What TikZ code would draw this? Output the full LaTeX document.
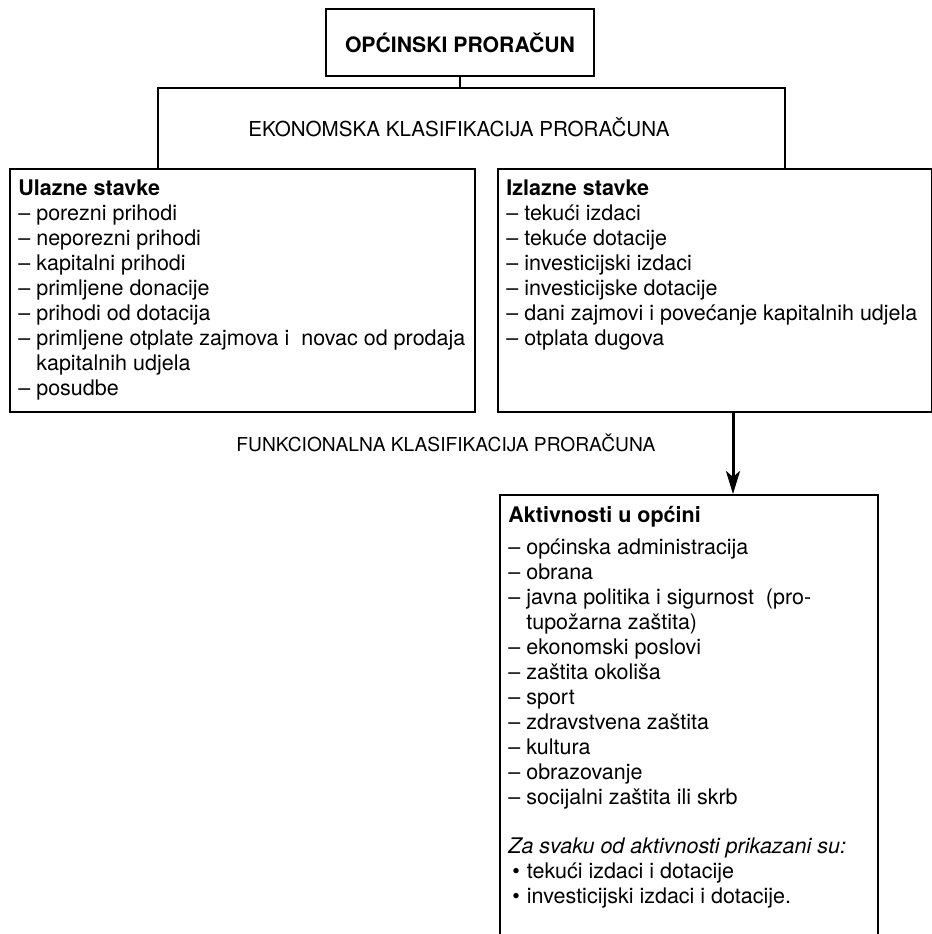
\documentclass[tikz,border=0pt]{standalone}
\usepackage{fontspec}
\setmainfont{TeX Gyre Heros}
\usetikzlibrary{arrows.meta}

\begin{document}
\begin{tikzpicture}[x=0.5pt, y=-0.5pt, font=\fontsize{10.75}{12.5}\selectfont]
        \tikzset{box/.style = {shape=rectangle, draw, line width=1pt, inner sep=0pt, anchor=north west},
                 txt/.style = {anchor=north west, align=left, inner xsep=4.5pt, inner ysep=5.8pt},
                 klas/.style = {font=\fontsize{10.3}{12}\selectfont},
                 link/.style = {line width=1pt}}
        \useasboundingbox (0,0) rectangle (932,934);
        \clip (0,0) rectangle (932,934);
        % boxes
        \node[box, minimum width=134pt, minimum height=33.5pt,
              font=\bfseries\fontsize{10.6}{12}\selectfont] (proracun) at (325,8) {OPĆINSKI PRORAČUN};
        \node[box, minimum width=232.5pt, minimum height=121.5pt] (ulaz) at (9,168) {};
        \node[box, minimum width=217pt, minimum height=121.5pt] (izlaz) at (497,168) {};
        \node[box, minimum width=189pt, minimum height=235pt] (aktiv) at (499,494) {};
        % texts
        \node[txt] (ulaztxt) at (ulaz.north west) {\textbf{Ulazne stavke}\\
              – porezni prihodi\\
              – neporezni prihodi\\
              – kapitalni prihodi\\
              – primljene donacije\\
              – prihodi od dotacija\\
              – primljene otplate zajmova i~ novac od prodaja\\
              \phantom{– }kapitalnih udjela\\
              – posudbe};
        \node[txt] (izlaztxt) at (izlaz.north west) {\textbf{Izlazne stavke}\\
              – tekući izdaci\\
              – tekuće dotacije\\
              – investicijski izdaci\\
              – investicijske dotacije\\
              – dani zajmovi i povećanje kapitalnih udjela\\
              – otplata dugova};
        \node[txt] (aktivtxt) at (aktiv.north west) {\textbf{Aktivnosti u općini}\\[3.5pt]
              – općinska administracija\\
              – obrana\\
              – javna politika i sigurnost~ (pro-\\
              \phantom{– }tupožarna zaštita)\\
              – ekonomski poslovi\\
              – zaštita okoliša\\
              – sport\\
              – zdravstvena zaštita\\
              – kultura\\
              – obrazovanje\\
              – socijalni zaštita ili skrb\\[12pt]
              \textit{Za svaku od aktivnosti prikazani su:}\\
              \hspace{2pt}•\hspace{3.5pt}tekući izdaci i dotacije\\
              \hspace{2pt}•\hspace{3.5pt}investicijski izdaci i dotacije.};
        % classifications
        \coordinate (ekl) at (158,88);
        \coordinate (ekd) at (785,88);
        \node[klas] (ekon) at (459,127) {EKONOMSKA KLASIFIKACIJA PRORAČUNA};
        \node[klas, font=\fontsize{9.6}{12}\selectfont] (funk) at (446,443) {FUNKCIONALNA KLASIFIKACIJA PRORAČUNA};
        % connectors
        \draw[link] (proracun.south) -- (proracun.south |- ekl);
        \draw[link] (ulaz.north -| ekl) -- (ekl) -- (ekd) -- (izlaz.north -| ekd);
        \coordinate (izlazdno) at (733,411);
        \draw[line width=1.5pt, -{Stealth[length=11.5pt, width=7pt, inset=3pt]}]
              (izlazdno) -- (izlazdno |- aktiv.north);
\end{tikzpicture}
\end{document}
